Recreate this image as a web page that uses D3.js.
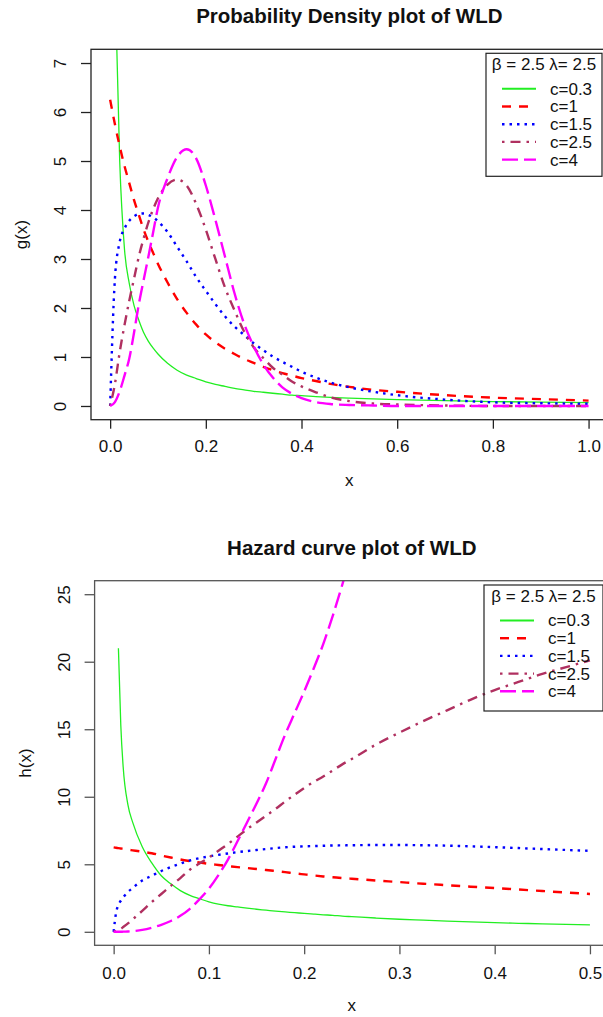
<!DOCTYPE html>
<html>
<head>
<meta charset="utf-8">
<script src="https://cdn.jsdelivr.net/npm/d3@7"></script>
<style>
  body { margin: 0; background: #fff; }
  svg text { font-family: "Liberation Sans", Arial, sans-serif; fill: #111; }
  .chart-header { font-weight: bold; font-size: 20.5px; }
  .tick text, .axis-label, .legend text { font-size: 17px; }
</style>
</head>
<body>
<div class="plot-item"></div>
<script>
// ---- density plot g(x) ----
var densX = [0, 0.01, 0.02, 0.03, 0.04, 0.05, 0.06, 0.07, 0.08, 0.09, 0.1, 0.12, 0.14, 0.16, 0.18,
  0.2, 0.22, 0.24, 0.26, 0.28, 0.3, 0.32, 0.34, 0.36, 0.38, 0.4, 0.43, 0.46, 0.5, 0.55, 0.6, 0.7, 0.8, 0.9, 1];
var densC03 = [null, 8.8, 5.0, 3.2, 2.5, 2.05, 1.75, 1.5, 1.32, 1.18, 1.06, 0.87, 0.73, 0.63, 0.56,
  0.49, 0.44, 0.40, 0.36, 0.33, 0.30, 0.28, 0.26, 0.24, 0.22, 0.21, 0.19, 0.175, 0.16, 0.145, 0.13, 0.11, 0.09, 0.08, 0.07];
var densC1 = [6.25, 5.75, 5.3, 4.9, 4.55, 4.2, 3.9, 3.6, 3.35, 3.12, 2.9, 2.52, 2.18, 1.9, 1.66,
  1.46, 1.3, 1.17, 1.06, 0.96, 0.88, 0.8, 0.73, 0.67, 0.62, 0.57, 0.51, 0.45, 0.39, 0.33, 0.29, 0.22, 0.17, 0.14, 0.11];
var densC15 = [0, 2.6, 3.35, 3.62, 3.78, 3.87, 3.92, 3.93, 3.9, 3.85, 3.77, 3.55, 3.25, 2.95, 2.63,
  2.35, 2.08, 1.83, 1.62, 1.45, 1.28, 1.14, 1.01, 0.9, 0.8, 0.7, 0.58, 0.48, 0.38, 0.29, 0.22, 0.13, 0.075, 0.055, 0.045];
var densC25 = [0, 0.45, 1.1, 1.65, 2.15, 2.6, 3.05, 3.42, 3.75, 4.02, 4.24, 4.52, 4.62, 4.5, 4.12,
  3.6, 3.0, 2.42, 1.95, 1.52, 1.2, 0.98, 0.78, 0.64, 0.5, 0.4, 0.28, 0.18, 0.1, 0.05, 0.03, 0.01, 0, 0, 0];
var densC4 = [0, 0.08, 0.3, 0.62, 0.97, 1.5, 2.08, 2.57, 3.05, 3.55, 4.05, 4.65, 5.08, 5.24, 5.05,
  4.5, 3.8, 3.05, 2.3, 1.68, 1.22, 0.85, 0.58, 0.38, 0.25, 0.16, 0.08, 0.04, 0.02, 0.01, 0, 0, 0, 0, 0];

// ---- hazard plot h(x) ----
var hazX = [0, 0.0025, 0.005, 0.0075, 0.01, 0.015, 0.02, 0.03, 0.04, 0.05, 0.06, 0.07, 0.08, 0.09, 0.1,
  0.11, 0.12, 0.13, 0.14, 0.15, 0.16, 0.17, 0.18, 0.19, 0.2, 0.21, 0.22, 0.23, 0.24, 0.25,
  0.275, 0.3, 0.325, 0.35, 0.375, 0.4, 0.425, 0.45, 0.475, 0.5];
var hazC03 = [null, null, 21.0, 15.3, 12.2, 9.4, 8.1, 6.3, 5.1, 4.15, 3.55, 3.05, 2.7, 2.45, 2.22,
  2.05, 1.93, 1.84, 1.75, 1.67, 1.6, 1.53, 1.47, 1.42, 1.36, 1.31, 1.26, 1.22, 1.16, 1.12,
  1.02, 0.93, 0.86, 0.79, 0.73, 0.68, 0.63, 0.59, 0.55, 0.51];
var hazC1 = [6.25, 6.22, 6.2, 6.17, 6.14, 6.08, 6.03, 5.93, 5.82, 5.65, 5.5, 5.36, 5.24, 5.13, 5.03,
  4.95, 4.87, 4.79, 4.72, 4.65, 4.58, 4.5, 4.42, 4.33, 4.25, 4.17, 4.1, 4.04, 3.98, 3.93,
  3.8, 3.68, 3.56, 3.45, 3.34, 3.24, 3.13, 3.02, 2.91, 2.8];
var hazC15 = [0, 1.4, 2.0, 2.3, 2.55, 2.95, 3.25, 3.8, 4.15, 4.5, 4.8, 5.05, 5.28, 5.45, 5.58,
  5.7, 5.8, 5.9, 5.98, 6.06, 6.13, 6.2, 6.26, 6.3, 6.33, 6.35, 6.37, 6.39, 6.4, 6.41,
  6.43, 6.43, 6.41, 6.38, 6.33, 6.27, 6.2, 6.13, 6.06, 6.0];
var hazC25 = [0, 0.04, 0.12, 0.22, 0.35, 0.62, 0.92, 1.55, 2.2, 2.8, 3.4, 3.98, 4.6, 5.05, 5.5,
  6.0, 6.5, 7.05, 7.6, 8.1, 8.6, 9.1, 9.65, 10.15, 10.65, 11.1, 11.5, 11.95, 12.4, 12.8,
  13.85, 14.75, 15.6, 16.4, 17.2, 17.9, 18.5, 19.1, 19.6, 20.1];
var hazC4 = [0, 0, 0, 0, 0.01, 0.02, 0.05, 0.14, 0.3, 0.52, 0.8, 1.18, 1.7, 2.4, 3.2,
  4.2, 5.35, 6.7, 8.1, 9.5, 11.0, 12.8, 14.6, 16.2, 17.8, 19.5, 21.3, 23.4, 25.7, 28.2,
  null, null, null, null, null, null, null, null, null, null];

// ---- labels & ticks ----
var seriesLabels = ["c=0.3", "c=1", "c=1.5", "c=2.5", "c=4"];
var legendTitle = "\u03b2 = 2.5 \u03bb= 2.5";
var densXTicks = [0, 0.2, 0.4, 0.6, 0.8, 1.0];
var densYTicks = [0, 1, 2, 3, 4, 5, 6, 7];
var hazXTicks = [0, 0.1, 0.2, 0.3, 0.4, 0.5];
var hazYTicks = [0, 5, 10, 15, 20, 25];

var lineStyles = [
  { color: "#22ee22", width: 1.3, dash: null },
  { color: "#ff0000", width: 2.4, dash: "9,8" },
  { color: "#0000ff", width: 2.4, dash: "2.5,5" },
  { color: "#b03060", width: 2.4, dash: "2.5,6,10,6" },
  { color: "#ff00ff", width: 2.4, dash: "16,6" }
];

var w = 603;
var h = 1017;
var svg = d3.select(".plot-item").append("svg")
      .attr("id", "chart")
      .attr("width", w)
      .attr("height", h);
svg.append("rect").attr("width", w).attr("height", h).attr("fill", "#fff");

function drawPanel(params) {
  var box = params.box;
  var x = d3.scaleLinear().domain(params.xDomain).range([box.left, box.right]);
  var y = d3.scaleLinear().domain(params.yDomain).range([box.bottom, box.top]);
  var g = svg.append("g").classed("display", true).style("color", params.ink);
  var clipId = "clip-" + params.id;

  g.append("clipPath").attr("id", clipId).append("rect")
    .attr("x", box.left).attr("y", box.top)
    .attr("width", box.right - box.left).attr("height", box.bottom - box.top);

  var line = d3.line()
    .defined(function(d){ return d[1] != null; })
    .x(function(d){ return x(d[0]); })
    .y(function(d){ return y(d[1]); })
    .curve(d3.curveMonotoneX);

  var curves = g.append("g").attr("clip-path", "url(#" + clipId + ")");
  curves.selectAll(".result")
    .data(params.series)
    .enter()
      .append("path")
      .classed("result", true)
      .attr("d", function(vals){
        return line(params.xs.map(function(xv, j){ return [xv, vals[j]]; }));
      })
      .attr("fill", "none")
      .attr("stroke", function(d, i){ return lineStyles[i].color; })
      .attr("stroke-width", function(d, i){ return lineStyles[i].width; })
      .attr("stroke-dasharray", function(d, i){ return lineStyles[i].dash; });

  // frame
  g.append("rect")
    .attr("x", box.left).attr("y", box.top)
    .attr("width", box.right - box.left).attr("height", box.bottom - box.top)
    .attr("fill", "none").attr("stroke", params.ink).attr("stroke-width", 1.3);

  // axes
  var xAxis = d3.axisBottom(x).tickValues(params.xTicks).tickSize(9).tickFormat(d3.format(".1f"));
  var gx = g.append("g").classed("axis x", true)
    .attr("transform", "translate(0," + box.bottom + ")")
    .call(xAxis);
  gx.select(".domain").remove();
  gx.selectAll(".tick line").attr("stroke-width", 1.3);
  gx.selectAll(".tick text").attr("y", params.xLabelOffset).attr("dy", 0);

  var yAxis = d3.axisLeft(y).tickValues(params.yTicks).tickSize(10);
  var gy = g.append("g").classed("axis y", true)
    .attr("transform", "translate(" + box.left + ",0)")
    .call(yAxis);
  gy.select(".domain").remove();
  gy.selectAll(".tick line").attr("stroke-width", 1.3);
  gy.selectAll(".tick text")
    .attr("transform", "rotate(-90)")
    .attr("x", 0).attr("y", -25).attr("dy", 0)
    .attr("text-anchor", "middle");

  var cx = (box.left + box.right) / 2;
  g.append("text").classed("chart-header", true)
    .attr("x", cx).attr("y", box.top - 26)
    .attr("text-anchor", "middle")
    .text(params.title);
  g.append("text").classed("axis-label", true)
    .attr("x", cx).attr("y", box.bottom + 66)
    .attr("text-anchor", "middle")
    .text("x");
  g.append("text").classed("axis-label", true)
    .attr("transform", "translate(" + (box.left - 64) + "," + ((box.top + box.bottom) / 2) + ") rotate(-90)")
    .attr("text-anchor", "middle")
    .text(params.yLabel);

  // legend
  var lg = g.append("g").classed("legend", true)
    .attr("transform", "translate(" + params.legend.x + "," + params.legend.y + ")");
  lg.append("rect")
    .attr("width", params.legend.w).attr("height", params.legend.h)
    .attr("fill", "none").attr("stroke", "#222").attr("stroke-width", 1.2);
  lg.append("text")
    .attr("x", params.legend.w / 2).attr("y", 11).attr("dy", "0.35em")
    .attr("text-anchor", "middle")
    .text(legendTitle);
  var rows = lg.selectAll(".legend-row")
    .data(seriesLabels)
    .enter()
      .append("g")
      .classed("legend-row", true)
      .attr("transform", function(d, i){ return "translate(0," + (35.5 + i * 17.7) + ")"; });
  rows.append("line")
    .attr("x1", 16).attr("x2", 50)
    .attr("stroke", function(d, i){ return lineStyles[i].color; })
    .attr("stroke-width", function(d, i){ return Math.max(lineStyles[i].width, 2); })
    .attr("stroke-dasharray", function(d, i){ return lineStyles[i].dash; });
  rows.append("text")
    .attr("x", 64).attr("dy", "0.35em")
    .text(function(d){ return d; });
}

drawPanel({
  id: "dens",
  title: "Probability Density plot of WLD",
  yLabel: "g(x)",
  ink: "#222",
  box: { left: 91, right: 607.7, top: 49.3, bottom: 419.7 },
  xDomain: [-0.04, 1.04],
  yDomain: [-0.28, 7.28],
  xTicks: densXTicks,
  yTicks: densYTicks,
  xLabelOffset: 32.5,
  xs: densX,
  series: [densC03, densC1, densC15, densC25, densC4],
  legend: { x: 486, y: 53.3, w: 116, h: 123 }
});

drawPanel({
  id: "haz",
  title: "Hazard curve plot of WLD",
  yLabel: "h(x)",
  ink: "#555",
  box: { left: 94.6, right: 609, top: 580.7, bottom: 945.3 },
  xDomain: [-0.02, 0.52],
  yDomain: [-1, 26],
  xTicks: hazXTicks,
  yTicks: hazYTicks,
  xLabelOffset: 33.3,
  xs: hazX,
  series: [hazC03, hazC1, hazC15, hazC25, hazC4],
  legend: { x: 484, y: 585, w: 119, h: 126 }
});
</script>
</body>
</html>
